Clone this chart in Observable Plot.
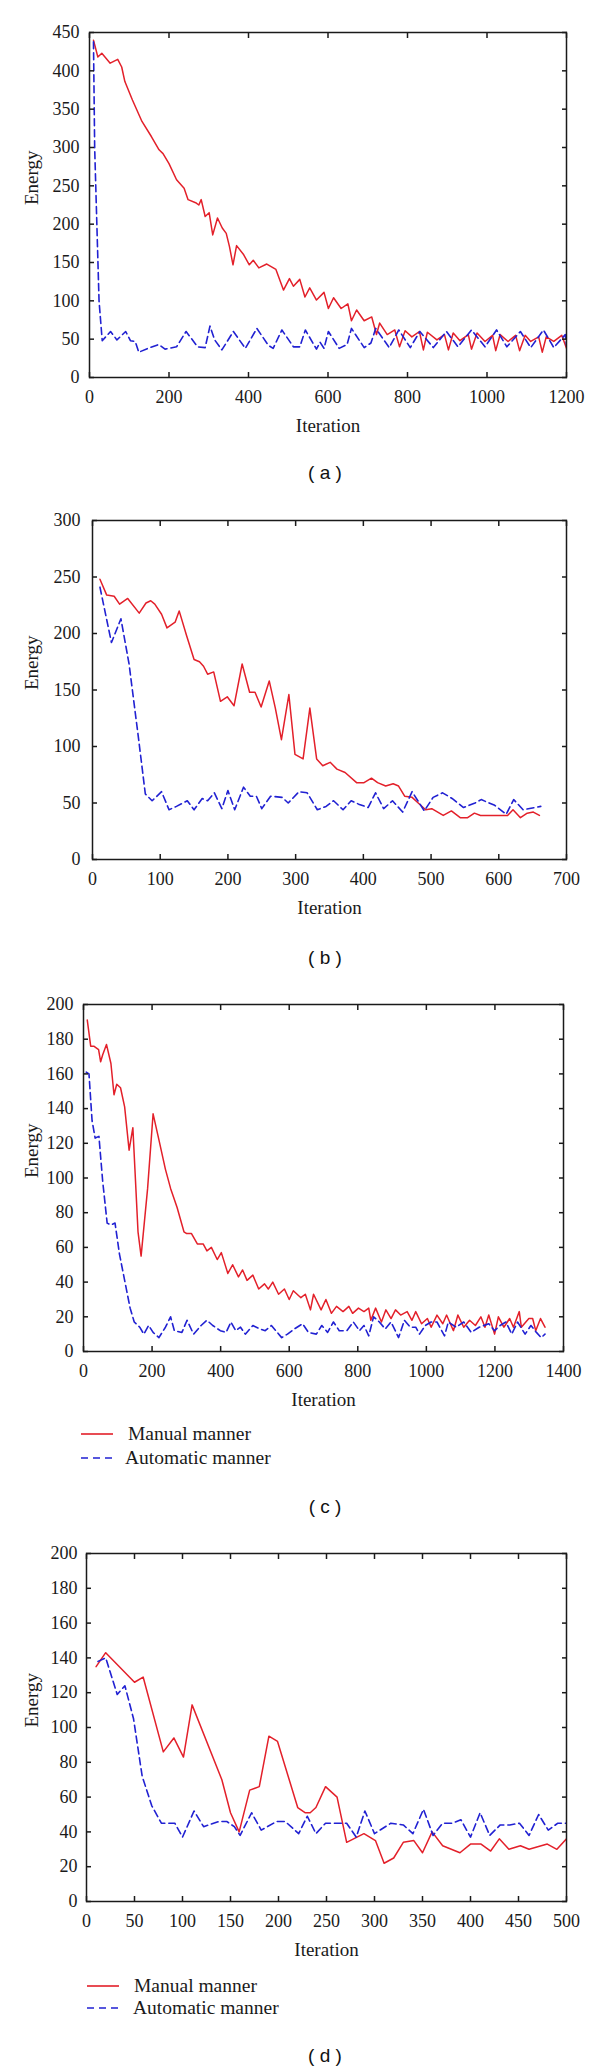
<!DOCTYPE html>
<html>
<head>
<meta charset="utf-8">
<script src="https://cdn.jsdelivr.net/npm/d3@7"></script>
<script src="https://cdn.jsdelivr.net/npm/@observablehq/plot@0.6"></script>
<style>
  body { margin: 0; background: #fff; }
  #wrap { position: relative; width: 600px; height: 2072px; overflow: hidden; background: #fff; }
  .panel { position: absolute; left: 0; }
  .cap { position: absolute; font-family: "Liberation Sans", Arial, sans-serif; font-size: 19px; color: #111;
         transform: translate(-50%, -50%); white-space: pre; line-height: 1; }
  .leg { position: absolute; left: 0; }
</style>
</head>
<body>
<div id="wrap"></div>
<script>
// ---------- data ----------
const seriesNames = ["Manual manner", "Automatic manner"];
const panelLabels = ["( a )", "( b )", "( c )", "( d )"];

// Panel (a)
const aXTicks = [0, 200, 400, 600, 800, 1000, 1200];
const aYTicks = [0, 50, 100, 150, 200, 250, 300, 350, 400, 450];
const aManual = [[10,440],[21,418],[31,423],[52,410],[71,415],[81,405],[89,386],[108,362],[132,334],[156,314],[175,297],[185,292],[200,279],[219,258],[238,247],[248,232],[267,228],[275,225],[281,232],[291,210],[301,215],[310,186],[322,208],[334,195],[344,188],[352,171],[361,147],[370,172],[388,160],[402,147],[412,153],[426,143],[446,148],[469,141],[488,114],[503,129],[513,119],[529,128],[542,105],[554,117],[571,101],[590,111],[601,90],[614,104],[633,90],[650,96],[659,74],[672,88],[691,74],[710,79],[722,56],[730,71],[749,56],[768,62],[780,40],[794,61],[811,53],[830,60],[840,36],[850,59],[874,49],[893,56],[903,36],[915,58],[932,48],[953,56],[961,37],[975,58],[995,47],[1014,55],[1022,35],[1033,56],[1053,47],[1072,55],[1082,35],[1096,55],[1110,47],[1130,53],[1139,33],[1149,53],[1168,47],[1188,55],[1200,38]];
const aAuto = [[10,438],[13,300],[24,100],[32,48],[53,60],[69,49],[91,60],[103,48],[115,47],[124,33],[147,38],[174,43],[190,37],[219,40],[243,60],[272,40],[291,39],[303,67],[315,49],[333,36],[362,60],[392,38],[421,64],[450,42],[462,38],[484,62],[513,40],[529,40],[543,62],[571,37],[580,46],[590,38],[601,60],[628,38],[648,43],[659,64],[691,39],[708,45],[720,64],[754,39],[778,62],[807,39],[831,60],[865,39],[898,60],[927,40],[961,62],[995,40],[1024,62],[1050,40],[1084,60],[1110,39],[1142,62],[1168,39],[1197,56],[1200,42]];

// Panel (b)
const bXTicks = [0, 100, 200, 300, 400, 500, 600, 700];
const bYTicks = [0, 50, 100, 150, 200, 250, 300];
const bManual = [[11,248],[21,234],[32,233],[40,226],[52,231],[69,218],[79,227],[86,229],[92,226],[102,217],[110,205],[122,210],[128,220],[139,198],[150,177],[158,175],[164,171],[170,164],[179,166],[189,140],[199,144],[209,136],[221,173],[232,148],[240,148],[249,135],[261,158],[270,134],[279,106],[290,146],[299,93],[311,89],[321,134],[331,89],[340,83],[351,86],[361,80],[373,77],[390,68],[401,68],[412,72],[421,68],[433,65],[444,67],[452,65],[461,56],[472,55],[481,50],[492,44],[501,45],[518,39],[530,43],[543,37],[554,37],[564,41],[573,39],[588,39],[613,39],[621,44],[632,37],[642,41],[651,42],[660,39]];
const bAuto = [[11,241],[28,192],[42,213],[54,173],[68,107],[78,58],[88,52],[102,60],[113,44],[124,47],[140,52],[150,44],[162,54],[170,52],[180,59],[191,45],[200,61],[210,44],[223,64],[233,56],[242,56],[250,45],[263,56],[280,55],[289,50],[305,60],[317,59],[332,44],[345,47],[356,52],[370,44],[382,52],[393,49],[407,46],[418,59],[430,45],[443,52],[458,42],[472,60],[490,43],[503,55],[517,59],[531,54],[548,46],[565,50],[574,53],[594,48],[611,40],[622,53],[636,44],[662,47]];

// Panel (c)
const cXTicks = [0, 200, 400, 600, 800, 1000, 1200, 1400];
const cYTicks = [0, 20, 40, 60, 80, 100, 120, 140, 160, 180, 200];
const cManual = [[11,191],[21,176],[30,176],[44,174],[50,167],[56,171],[67,177],[80,166],[89,148],[97,154],[108,152],[120,141],[133,116],[144,129],[150,105],[159,69],[168,55],[187,94],[203,137],[220,122],[239,105],[254,94],[273,83],[293,69],[301,68],[315,68],[332,62],[349,62],[360,58],[373,60],[390,53],[402,57],[421,45],[435,50],[452,43],[464,47],[477,41],[494,44],[511,36],[528,39],[539,36],[552,40],[569,33],[586,36],[600,30],[612,35],[634,31],[647,33],[662,24],[671,33],[693,24],[707,30],[723,22],[738,26],[757,23],[774,26],[785,22],[802,25],[818,23],[832,25],[838,18],[852,25],[869,17],[882,24],[897,19],[910,24],[925,21],[944,23],[958,18],[969,23],[986,16],[1003,19],[1014,14],[1031,21],[1048,16],[1059,21],[1079,12],[1092,21],[1109,14],[1126,18],[1143,15],[1159,20],[1171,14],[1182,21],[1199,10],[1210,20],[1226,14],[1243,19],[1254,14],[1271,23],[1277,14],[1299,19],[1310,19],[1319,12],[1333,19],[1346,14]];
const cAuto = [[8,161],[16,160],[25,133],[34,123],[45,124],[56,98],[69,74],[80,73],[92,74],[105,56],[120,41],[136,25],[148,17],[164,14],[176,10],[190,15],[203,11],[220,8],[239,14],[254,20],[265,12],[287,11],[302,18],[321,10],[343,15],[360,18],[377,15],[399,12],[416,11],[430,17],[444,12],[458,14],[472,10],[494,15],[514,13],[530,12],[548,15],[561,12],[578,8],[595,10],[615,13],[639,16],[656,11],[679,10],[695,15],[712,11],[729,17],[746,12],[768,12],[787,17],[805,12],[818,15],[832,9],[846,20],[863,17],[880,13],[897,17],[919,8],[936,18],[953,14],[969,14],[980,10],[997,15],[1014,17],[1031,17],[1053,9],[1064,17],[1087,14],[1109,17],[1131,11],[1154,14],[1182,16],[1199,12],[1215,15],[1232,17],[1249,10],[1266,17],[1288,10],[1305,15],[1321,11],[1335,8],[1346,10]];

// Panel (d)
const dXTicks = [0, 50, 100, 150, 200, 250, 300, 350, 400, 450, 500];
const dYTicks = [0, 20, 40, 60, 80, 100, 120, 140, 160, 180, 200];
const dManual = [[10,135],[20,143],[50,126],[59,129],[80,86],[91,94],[101,83],[110,113],[141,70],[150,51],[159,40],[170,64],[180,66],[190,95],[199,92],[220,54],[228,51],[233,51],[239,54],[249,66],[261,60],[271,34],[289,39],[301,35],[310,22],[320,25],[330,34],[341,35],[350,28],[360,40],[371,32],[389,28],[400,33],[411,33],[421,29],[430,36],[440,30],[452,32],[461,30],[480,33],[490,30],[500,36]];
const dAuto = [[12,138],[20,140],[32,119],[40,124],[49,105],[58,72],[68,55],[78,45],[92,45],[100,37],[112,52],[122,43],[138,46],[146,46],[154,43],[160,38],[172,51],[182,41],[198,46],[207,46],[221,39],[230,49],[239,39],[249,45],[261,45],[271,45],[281,37],[290,52],[300,39],[317,45],[330,44],[340,39],[351,53],[361,38],[371,45],[381,45],[390,47],[400,37],[410,51],[420,38],[431,44],[441,44],[451,45],[461,38],[471,50],[481,41],[491,45],[500,45]];

// ---------- styling / layout ----------
const RED = "#e3202a";
const BLUE = "#2121d2";
const INK = "#1a1a1a";
const SERIF = "'Liberation Serif', 'Times New Roman', serif";

const panels = [
  {manual: aManual, auto: aAuto, xt: aXTicks, yt: aYTicks, left: 89, right: 566, top: 32, bottom: 377, ypad: 10, cap: 472, legend: null},
  {manual: bManual, auto: bAuto, xt: bXTicks, yt: bYTicks, left: 92, right: 566, top: 520, bottom: 859, ypad: 12, cap: 957, legend: null},
  {manual: cManual, auto: cAuto, xt: cXTicks, yt: cYTicks, left: 83, right: 563, top: 1004, bottom: 1351, ypad: 10, cap: 1506, legend: {top: 1420, x1: 81, x2: 113, y1: 14, y2: 38, t1: 128, t2: 125}},
  {manual: dManual, auto: dAuto, xt: dXTicks, yt: dYTicks, left: 86, right: 566, top: 1553, bottom: 1901, ypad: 9, cap: 2055, legend: {top: 1972, x1: 87, x2: 119, y1: 14, y2: 36, t1: 134, t2: 133}}
];

const wrap = document.getElementById("wrap");
const MT = 30, MB = 62;

panels.forEach((p, i) => {
  const h = p.bottom - p.top;
  const xDom = [p.xt[0], p.xt[p.xt.length - 1]];
  const yDom = [p.yt[0], p.yt[p.yt.length - 1]];
  const chart = Plot.plot({
    width: 600,
    height: MT + h + MB,
    marginTop: MT,
    marginBottom: MB,
    marginLeft: p.left,
    marginRight: 600 - p.right,
    style: {fontFamily: SERIF, fontSize: "18px", color: INK, background: "transparent", overflow: "visible"},
    x: {domain: xDom},
    y: {domain: yDom},
    marks: [
      Plot.line(p.manual, {x: d => d[0], y: d => d[1], stroke: RED, strokeWidth: 1.5, clip: true}),
      Plot.line(p.auto, {x: d => d[0], y: d => d[1], stroke: BLUE, strokeWidth: 1.6, strokeDasharray: "7,4", clip: true}),
      Plot.frame({stroke: INK, strokeWidth: 1.5}),
      // inward ticks on all four sides
      Plot.axisX(p.xt, {anchor: "bottom", tickSize: -5, strokeWidth: 1.5, stroke: INK, tickFormat: () => "", label: null}),
      Plot.axisX(p.xt, {anchor: "top", tickSize: -5, strokeWidth: 1.5, stroke: INK, tickFormat: () => "", label: null}),
      Plot.axisY(p.yt, {anchor: "left", tickSize: -5, strokeWidth: 1.5, stroke: INK, tickFormat: () => "", label: null}),
      Plot.axisY(p.yt, {anchor: "right", tickSize: -5, strokeWidth: 1.5, stroke: INK, tickFormat: () => "", label: null}),
      // tick labels
      Plot.axisX(p.xt, {anchor: "bottom", tickSize: 0, tickPadding: 13, fill: INK, label: null, tickFormat: d => String(d)}),
      Plot.axisY(p.yt, {anchor: "left", tickSize: 0, tickPadding: p.ypad, fill: INK, label: null, tickFormat: d => String(d)}),
      // axis titles
      Plot.text(["Iteration"], {text: d => d, frameAnchor: "bottom", lineAnchor: "middle", dy: 48, fontSize: 19, fill: INK}),
      Plot.text(["Energy"], {text: d => d, frameAnchor: "left", rotate: -90, lineAnchor: "middle", dx: 31 - p.left, fontSize: 19, fill: INK})
    ]
  });
  chart.classList.add("panel");
  chart.style.top = (p.top - MT) + "px";
  wrap.appendChild(chart);

  const cap = document.createElement("div");
  cap.className = "cap";
  cap.textContent = panelLabels[i];
  cap.style.left = "325px";
  cap.style.top = p.cap + "px";
  wrap.appendChild(cap);

  if (p.legend) {
    const L = p.legend;
    const ns = "http://www.w3.org/2000/svg";
    const svg = document.createElementNS(ns, "svg");
    svg.setAttribute("class", "leg");
    svg.setAttribute("width", 320);
    svg.setAttribute("height", 52);
    svg.style.top = L.top + "px";
    const items = [
      {y: L.y1, tx: L.t1, color: RED, dash: null, name: seriesNames[0]},
      {y: L.y2, tx: L.t2, color: BLUE, dash: "7,5", name: seriesNames[1]}
    ];
    items.forEach(it => {
      const ln = document.createElementNS(ns, "line");
      ln.setAttribute("x1", L.x1); ln.setAttribute("x2", L.x2);
      ln.setAttribute("y1", it.y); ln.setAttribute("y2", it.y);
      ln.setAttribute("stroke", it.color); ln.setAttribute("stroke-width", 1.6);
      if (it.dash) ln.setAttribute("stroke-dasharray", it.dash);
      svg.appendChild(ln);
      const tx = document.createElementNS(ns, "text");
      tx.setAttribute("x", it.tx); tx.setAttribute("y", it.y);
      tx.setAttribute("dy", "0.33em");
      tx.setAttribute("font-family", SERIF);
      tx.setAttribute("font-size", 19.5);
      tx.setAttribute("fill", INK);
      tx.textContent = it.name;
      svg.appendChild(tx);
    });
    wrap.appendChild(svg);
  }
});
</script>
</body>
</html>
